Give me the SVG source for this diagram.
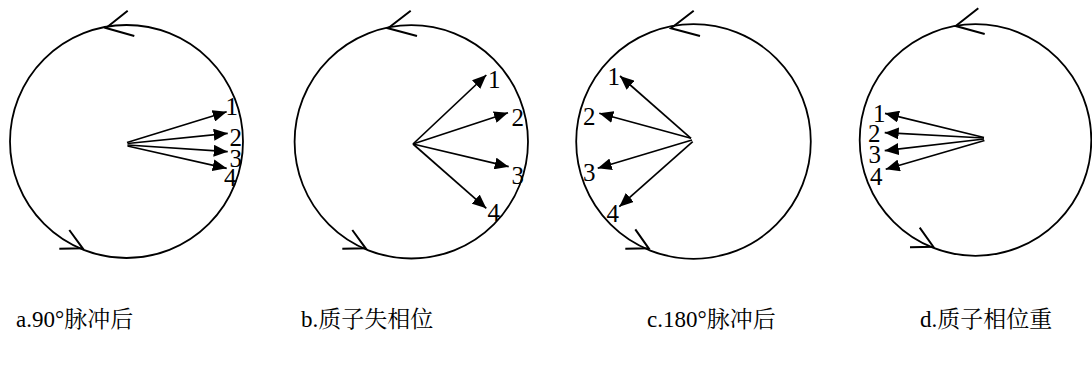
<svg xmlns="http://www.w3.org/2000/svg" width="1092" height="381" viewBox="0 0 1092 381">
<style>
.c{fill:none;stroke:#000;stroke-width:1.8}
.ch{fill:none;stroke:#000;stroke-width:2}
.v{stroke:#000;stroke-width:1.7;marker-end:url(#ah)}
.n{font-family:"Liberation Serif","Times New Roman",serif;font-size:25px;fill:#000}
.t{font-family:"Liberation Serif","Noto Serif CJK SC","Noto Sans CJK SC",serif;font-size:23px;fill:#000}
</style>
<defs>
<marker id="ah" viewBox="0 0 14 12" refX="14" refY="6" markerWidth="14" markerHeight="12" markerUnits="userSpaceOnUse" orient="auto">
<path d="M0,0 L14,6 L0,12 z" fill="#000"/>
</marker>
</defs>
<g id="diagram-a">
<circle class="c" cx="126.5" cy="141.5" r="116.5"/>
<polyline class="ch" points="127.7,10.7 106,28 134.3,36"/>
<polyline class="ch" points="69.3,230 82.7,248.3 59.3,248.7"/>
<g id="vectors-a">
<line class="v" x1="127" y1="142.5" x2="226.7" y2="111.7"/>
<line class="v" x1="127.5" y1="143.5" x2="227.7" y2="133.3"/>
<line class="v" x1="127.5" y1="145" x2="227.7" y2="151.7"/>
<line class="v" x1="127.5" y1="146" x2="226.7" y2="168.3"/>
</g>
<text class="n" x="225.5" y="115">1</text>
<text class="n" x="229.5" y="145.7">2</text>
<text class="n" x="229.5" y="166.7">3</text>
<text class="n" x="224" y="186">4</text>
<text class="t" x="16" y="327">a.90°脉冲后</text>
</g>
<g id="diagram-b">
<circle class="c" cx="411.3" cy="141.8" r="116.7"/>
<polyline class="ch" points="410.7,10.7 388,28.3 417,36"/>
<polyline class="ch" points="352.3,230 365.7,248.3 342.3,248.7"/>
<g id="vectors-b">
<line class="v" x1="413" y1="144" x2="486.3" y2="75"/>
<line class="v" x1="413" y1="144" x2="508" y2="112.7"/>
<line class="v" x1="413" y1="144" x2="508.7" y2="166.7"/>
<line class="v" x1="413" y1="144" x2="486.3" y2="208.3"/>
</g>
<text class="n" x="488" y="88.3">1</text>
<text class="n" x="511.5" y="126">2</text>
<text class="n" x="511.5" y="184">3</text>
<text class="n" x="487.5" y="220.5">4</text>
<text class="t" x="301" y="327">b.质子失相位</text>
</g>
<g id="diagram-c">
<circle class="c" cx="693.5" cy="141.5" r="117.3"/>
<polyline class="ch" points="693.7,10.7 671,28.3 700,36"/>
<polyline class="ch" points="635.3,229.3 648.7,248.3 625.3,248.7"/>
<g id="vectors-c">
<line class="v" x1="691" y1="138.3" x2="620" y2="76"/>
<line class="v" x1="691" y1="138.3" x2="599.3" y2="113.3"/>
<line class="v" x1="692" y1="140" x2="597.7" y2="168.3"/>
<line class="v" x1="692.7" y1="141.7" x2="619.3" y2="206.7"/>
</g>
<text class="n" x="607.5" y="85">1</text>
<text class="n" x="583" y="125">2</text>
<text class="n" x="583" y="180.7">3</text>
<text class="n" x="606.5" y="221.7">4</text>
<text class="t" x="647" y="327">c.180°脉冲后</text>
</g>
<g id="diagram-d">
<circle class="c" cx="975.5" cy="140" r="115.8"/>
<polyline class="ch" points="978.3,8.3 955.7,26 984.7,34"/>
<polyline class="ch" points="919.7,227.7 933.3,246.7 910,247.3"/>
<g id="vectors-d">
<line class="v" x1="984" y1="137.5" x2="885" y2="113.3"/>
<line class="v" x1="984" y1="138" x2="884.7" y2="132.7"/>
<line class="v" x1="984" y1="139" x2="884.7" y2="150.7"/>
<line class="v" x1="984.5" y1="140.5" x2="885.7" y2="169.3"/>
</g>
<text class="n" x="873" y="121.7">1</text>
<text class="n" x="868" y="141.7">2</text>
<text class="n" x="868.5" y="163.3">3</text>
<text class="n" x="870" y="185">4</text>
<text class="t" x="920" y="327">d.质子相位重</text>
</g>
</svg>
